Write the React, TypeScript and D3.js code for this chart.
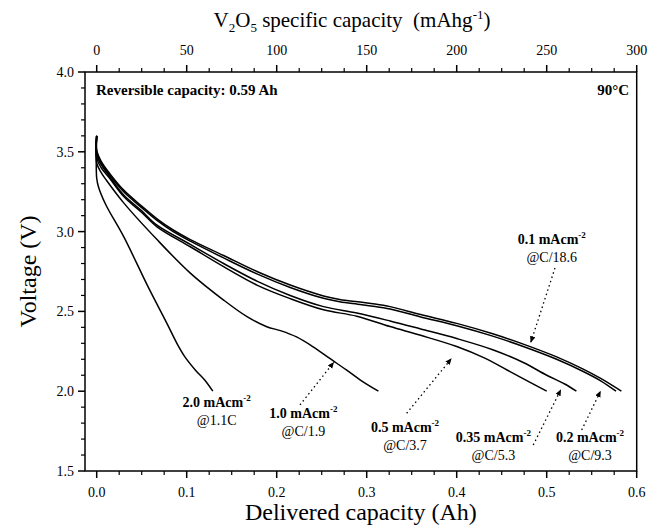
import React from 'react';
import * as d3 from 'd3';

const W = 649;
const H = 526;

// axis ticks
const xMajor = [0, 0.1, 0.2, 0.3, 0.4, 0.5, 0.6];
const xLabels = ['0.0', '0.1', '0.2', '0.3', '0.4', '0.5', '0.6'];
const topLabels = ['0', '50', '100', '150', '200', '250', '300'];
const yMajor = [1.5, 2.0, 2.5, 3.0, 3.5, 4.0];
const yLabels = ['1.5', '2.0', '2.5', '3.0', '3.5', '4.0'];

// discharge curves: [capacity Ah, voltage V]
const c01: [number, number][] = [
  [0, 3.6], [0, 3.51], [0.005, 3.44], [0.015, 3.36], [0.03, 3.26], [0.05, 3.16], [0.067, 3.08],
  [0.085, 3.01], [0.104, 2.95], [0.141, 2.85], [0.178, 2.75], [0.215, 2.665], [0.252, 2.597],
  [0.27, 2.575], [0.29, 2.56], [0.307, 2.548], [0.326, 2.53], [0.36, 2.48], [0.4, 2.425],
  [0.44, 2.36], [0.474, 2.295], [0.511, 2.215], [0.54, 2.14], [0.56, 2.08], [0.583, 2.0],
];
const c02: [number, number][] = [
  [0, 3.6], [0, 3.5], [0.005, 3.43], [0.015, 3.35], [0.03, 3.25], [0.05, 3.15], [0.067, 3.07],
  [0.085, 3.0], [0.104, 2.94], [0.141, 2.835], [0.178, 2.735], [0.215, 2.65], [0.252, 2.582],
  [0.27, 2.56], [0.29, 2.545], [0.307, 2.533], [0.326, 2.515], [0.36, 2.465], [0.4, 2.41],
  [0.44, 2.345], [0.474, 2.28], [0.511, 2.2], [0.54, 2.125], [0.56, 2.065], [0.577, 2.0],
];
const c035: [number, number][] = [
  [0, 3.6], [0, 3.48], [0.005, 3.42], [0.015, 3.34], [0.03, 3.23], [0.05, 3.13], [0.067, 3.04],
  [0.104, 2.92], [0.141, 2.8], [0.178, 2.69], [0.215, 2.6], [0.252, 2.53], [0.289, 2.49],
  [0.326, 2.44], [0.36, 2.39], [0.4, 2.33], [0.44, 2.26], [0.474, 2.18], [0.5, 2.1],
  [0.52, 2.045], [0.533, 2.0],
];
const c05: [number, number][] = [
  [0, 3.6], [0, 3.46], [0.005, 3.4], [0.015, 3.33], [0.03, 3.22], [0.05, 3.12], [0.067, 3.03],
  [0.104, 2.905], [0.141, 2.78], [0.178, 2.665], [0.215, 2.58], [0.252, 2.51], [0.289, 2.47],
  [0.326, 2.405], [0.36, 2.35], [0.4, 2.28], [0.43, 2.21], [0.456, 2.133], [0.48, 2.06],
  [0.5, 2.0],
];
const c10: [number, number][] = [
  [0, 3.6], [0, 3.43], [0.005, 3.37], [0.011, 3.32], [0.03, 3.18], [0.067, 2.95], [0.104, 2.74],
  [0.141, 2.571], [0.167, 2.467], [0.189, 2.404], [0.205, 2.378], [0.222, 2.34], [0.24, 2.28],
  [0.259, 2.205], [0.277, 2.135], [0.293, 2.07], [0.313, 2.0],
];
const c20: [number, number][] = [
  [0, 3.6], [0, 3.334], [0.002, 3.28], [0.01, 3.17], [0.03, 2.968], [0.057, 2.655],
  [0.078, 2.425], [0.09, 2.29], [0.098, 2.215], [0.11, 2.13], [0.12, 2.07], [0.129, 2.0],
];
const curves = [c01, c02, c035, c05, c10, c20];

// annotations: label position (Ah, V), arrow from/to (Ah, V)
const annCurrent = ['0.1', '0.2', '0.35', '0.5', '1.0', '2.0'];
const annRate = ['@C/18.6', '@C/9.3', '@C/5.3', '@C/3.7', '@C/1.9', '@1.1C'];
const annPos: [number, number][] = [
  [0.5056, 2.952], [0.5481, 1.711], [0.4407, 1.715], [0.3426, 1.778], [0.2296, 1.862], [0.1333, 1.934],
];
const annArrow: ([number, number, number, number] | null)[] = [
  [0.5092, 2.772, 0.4822, 2.304],
  [0.5389, 1.757, 0.56, 2.003],
  [0.4851, 1.663, 0.5159, 2.012],
  [0.3444, 1.862, 0.3944, 2.206],
  [0.2259, 1.914, 0.2637, 2.183],
  null,
];

const FONT = '"Liberation Serif", "Times New Roman", serif';

export default function App() {
  const left = 85, right = 636.7, top = 72, bottom = 471;
  const x = d3.scaleLinear().domain([-0.013, 0.6]).range([left, right]);
  const y = d3.scaleLinear().domain([1.5, 4.0]).range([bottom, top]);
  const line = d3.line<[number, number]>()
    .x((d) => x(d[0]))
    .y((d) => y(d[1]))
    .curve(d3.curveCatmullRom.alpha(0.5));

  const xMinor = d3.range(0, 0.6001, 0.025).filter((v) => Math.abs(v * 10 - Math.round(v * 10)) > 1e-6);
  const yMinor = d3.range(1.5, 4.0001, 0.1).filter((v) => Math.abs(v * 2 - Math.round(v * 2)) > 1e-6);

  return (
    <svg width={W} height={H} style={{ position: 'absolute', left: 0, top: 0, background: '#fff' }}
      fontFamily={FONT}>
      <defs>
        <marker id="ah" markerUnits="userSpaceOnUse" markerWidth="8" markerHeight="8" refX="6.5" refY="2.75"
          orient="auto">
          <path d="M0,0 L6.5,2.75 L0,5.5 Z" fill="#000" />
        </marker>
      </defs>
      <rect x={0} y={0} width={W} height={H} fill="#fff" />

      {/* curves */}
      {curves.map((c, i) => (
        <path key={i} d={line(c) || ''} fill="none" stroke="#000" strokeWidth={1.5} />
      ))}

      {/* frame */}
      <rect x={left} y={top} width={right - left} height={bottom - top} fill="none" stroke="#000" strokeWidth={1.5} />

      {/* bottom and top axes */}
      {xMajor.map((v, i) => (
        <g key={'bx' + i}>
          <line x1={x(v)} x2={x(v)} y1={bottom} y2={bottom + 7} stroke="#000" strokeWidth={1.5} />
          <text x={x(v)} y={bottom + 26} textAnchor="middle" fontSize={14}>{xLabels[i]}</text>
          <line x1={x(v)} x2={x(v)} y1={top} y2={top - 7} stroke="#000" strokeWidth={1.5} />
          <text x={x(v)} y={top - 17} textAnchor="middle" fontSize={14}>{topLabels[i]}</text>
        </g>
      ))}
      {xMinor.map((v, i) => (
        <g key={'bm' + i}>
          <line x1={x(v)} x2={x(v)} y1={bottom} y2={bottom + 4} stroke="#000" strokeWidth={1.2} />
          <line x1={x(v)} x2={x(v)} y1={top} y2={top - 4} stroke="#000" strokeWidth={1.2} />
        </g>
      ))}

      {/* left axis */}
      {yMajor.map((v, i) => (
        <g key={'ly' + i}>
          <line x1={left} x2={left - 7} y1={y(v)} y2={y(v)} stroke="#000" strokeWidth={1.5} />
          <text x={left - 11} y={y(v) + 5} textAnchor="end" fontSize={14}>{yLabels[i]}</text>
        </g>
      ))}
      {yMinor.map((v, i) => (
        <line key={'lm' + i} x1={left} x2={left - 4} y1={y(v)} y2={y(v)} stroke="#000" strokeWidth={1.2} />
      ))}

      {/* axis titles */}
      <text x={(left + right) / 2} y={520} textAnchor="middle" fontSize={24}>Delivered capacity (Ah)</text>
      <text transform={`translate(36, ${(top + bottom) / 2}) rotate(-90)`} textAnchor="middle" fontSize={24}>
        Voltage (V)
      </text>
      <text x={352} y={27} textAnchor="middle" fontSize={21} style={{ whiteSpace: 'pre' }}>
        V<tspan fontSize={13} dy={5}>2</tspan><tspan dy={-5}>O</tspan><tspan fontSize={13} dy={5}>5</tspan>
        <tspan dy={-5}>{' specific capacity\u00a0\u00a0(mAhg'}</tspan><tspan fontSize={13} dy={-8}>-1</tspan><tspan dy={8}>)</tspan>
      </text>

      {/* in-plot labels */}
      <text x={96} y={95} fontSize={15} fontWeight="bold">Reversible capacity: 0.59 Ah</text>
      <text x={629} y={95} fontSize={15} fontWeight="bold" textAnchor="end">90°C</text>

      {annCurrent.map((c, i) => {
        const px = x(annPos[i][0]);
        const py = y(annPos[i][1]);
        const a = annArrow[i];
        return (
          <g key={'an' + i}>
            <text x={px} y={py + 5} textAnchor="middle" fontSize={14} fontWeight="bold">
              {c} mAcm<tspan fontSize={9} dy={-6}>-2</tspan>
            </text>
            <text x={px} y={py + 23} textAnchor="middle" fontSize={14}>{annRate[i]}</text>
            {a && (
              <line x1={x(a[0])} y1={y(a[1])} x2={x(a[2])} y2={y(a[3])} stroke="#000" strokeWidth={1.3}
                strokeDasharray="1.5 3" markerEnd="url(#ah)" />
            )}
          </g>
        );
      })}
    </svg>
  );
}
